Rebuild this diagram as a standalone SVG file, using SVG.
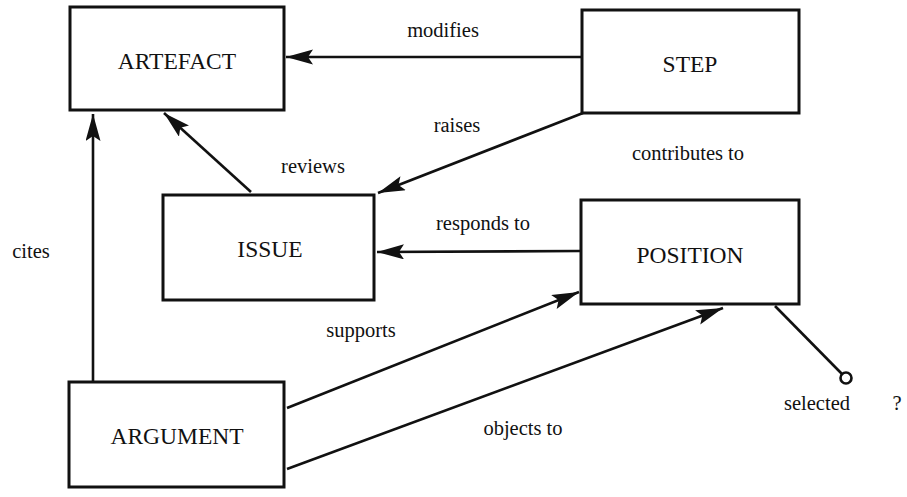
<svg xmlns="http://www.w3.org/2000/svg" width="907" height="497" viewBox="0 0 907 497">
<style>
.box{fill:#fff;stroke:#111;stroke-width:3}
.nt{font-size:23.5px;fill:#111;text-anchor:middle}
.lb{font-size:20.5px;fill:#111;text-anchor:middle}
.ln{stroke:#111;stroke-width:2.6;fill:none}
</style>
<defs>
<marker id="ah" markerUnits="userSpaceOnUse" markerWidth="30" markerHeight="16" refX="27" refY="7.5" orient="auto">
<path d="M0,0 L27,7.5 L0,15 L5,7.5 Z" fill="#111"/>
</marker>
</defs>
<rect width="907" height="497" fill="#fff"/>
<g font-family="Liberation Serif, DejaVu Serif, serif">
<g id="connectors">
<line class="ln" x1="582" y1="57" x2="286" y2="57" marker-end="url(#ah)"/>
<line class="ln" x1="93" y1="382" x2="93" y2="114" marker-end="url(#ah)"/>
<line class="ln" x1="251" y1="192" x2="164" y2="113" marker-end="url(#ah)"/>
<line class="ln" x1="583" y1="113" x2="378" y2="193" marker-end="url(#ah)"/>
<line class="ln" x1="580" y1="251" x2="377" y2="252" marker-end="url(#ah)"/>
<line class="ln" x1="287" y1="408" x2="579" y2="292" marker-end="url(#ah)"/>
<line class="ln" x1="287" y1="469" x2="723" y2="308" marker-end="url(#ah)"/>
<line class="ln" x1="775" y1="306" x2="842" y2="374"/>
<circle cx="846" cy="378" r="5.5" fill="#fff" stroke="#111" stroke-width="2.6"/>
<text class="lb" x="443" y="37">modifies</text>
<text class="lb" x="457" y="132">raises</text>
<text class="lb" x="313" y="173">reviews</text>
<text class="lb" x="688" y="160">contributes to</text>
<text class="lb" x="483" y="230">responds to</text>
<text class="lb" x="31" y="258">cites</text>
<text class="lb" x="361" y="337">supports</text>
<text class="lb" x="523" y="435">objects to</text>
<text class="lb" x="817" y="410">selected</text>
<text class="lb" x="897" y="410">?</text>
</g>
<g id="artefact">
<rect class="box" x="70" y="7" width="214" height="103"/>
<text class="nt" x="177" y="69">ARTEFACT</text>
</g>
<g id="step">
<rect class="box" x="582" y="10" width="217" height="103"/>
<text class="nt" x="690" y="72">STEP</text>
</g>
<g id="issue">
<rect class="box" x="163" y="195" width="211" height="105"/>
<text class="nt" x="270" y="257">ISSUE</text>
</g>
<g id="position">
<rect class="box" x="581" y="200" width="218" height="104"/>
<text class="nt" x="690" y="263">POSITION</text>
</g>
<g id="argument">
<rect class="box" x="69" y="382" width="215" height="105"/>
<text class="nt" x="177" y="444">ARGUMENT</text>
</g>
</g>
</svg>
